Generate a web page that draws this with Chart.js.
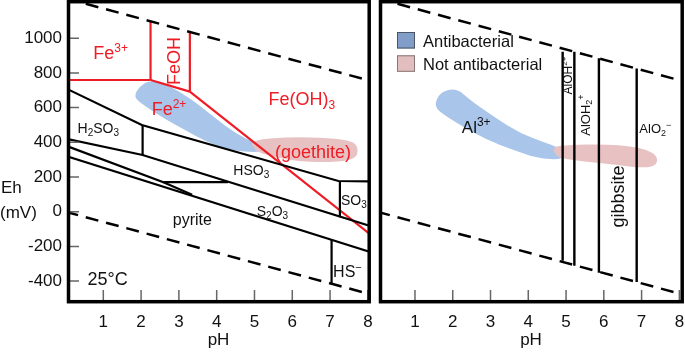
<!DOCTYPE html>
<html><head><meta charset="utf-8">
<script src="https://cdn.jsdelivr.net/npm/chart.js@4.4.1/dist/chart.umd.min.js"></script>
<style>
html,body{margin:0;padding:0;background:#fff;width:685px;height:353px;overflow:hidden;}
#c1{position:absolute;left:0;top:0;}
#c2{position:absolute;left:372px;top:0;}
</style></head><body>
<canvas id="c1" width="372" height="353"></canvas>
<canvas id="c2" width="313" height="353"></canvas>
<script>
const FONT = "'Liberation Sans', Arial, Helvetica, sans-serif";

// ---- axes ----
const PH_TICKS = [1, 2, 3, 4, 5, 6, 7, 8];
const EH_TICKS = [-400, -200, 0, 200, 400, 600, 800, 1000];
const PH_RANGE_LEFT = [0.066, 8.03];
const PH_RANGE_RIGHT = [0.074, 8.07];
const EH_RANGE = [-520.5, 1208.6];

// ---- water stability limits (dashed) [pH, Eh mV] ----
const WATER_O2 = [[0, 1230], [8.1, 752]];
const WATER_H2 = [[0, 0], [8.1, -478]];

// ---- Fe boundaries (red) ----
const FE3_FE2 = [[0.0, 759], [2.25, 759]];
const FE3_FEOH = [[2.25, 759], [2.25, 1097]];
const FEOH_FE2 = [[2.25, 759], [3.29, 692]];
const FEOH_FEOH3 = [[3.29, 692], [3.29, 1036]];
const FE2_FEOH3 = [[3.29, 692], [8.1, -137]];

// ---- S boundaries (black) ----
const S_UPPER = [[0.0, 712], [2.02, 500], [7.22, 177], [8.1, 174]];
const S_H2SO3_HSO3 = [[2.04, 500], [2.04, 327]];
const S_LINE_B = [[0.0, 421], [2.04, 327], [8.1, -85]];
const S_LINE_C = [[0.0, 381], [2.59, 170], [3.35, 97]];
const S_STEP = [[2.59, 170], [4.3, 170]];
const S_PYRITE_TOP = [[0.0, 322], [8.1, -235]];
const S_SO3_EDGE = [[7.26, 177], [7.26, -32]];
const S_HS_EDGE = [[7.04, -163], [7.04, -418]];

// ---- Al boundaries (right panel) ----
const AL_EDGE_PH = [4.91, 5.22, 5.87, 6.87];
const AL_EDGE_TOP = [922, 922, 884, 825];
const AL_EDGE_BOTTOM = [-283, -311, -352, -405];

// ---- observed regions ----
const FE_ANTIBACTERIAL = [[1.79,661],[1.97,724],[2.24,759],[2.63,736],[3.03,690],[3.43,632],[3.96,540],[4.48,454],[5.01,396],[5.33,367],[5.20,344],[4.75,344],[4.22,361],[3.69,408],[3.16,471],[2.63,534],[2.10,609]];
const FE_NOT_ANTIBACTERIAL = [[4.88,413],[5.94,431],[7.0,425],[7.58,407],[7.74,373],[7.71,310],[7.26,286],[6.2,286],[5.41,321],[5.01,350]];
const AL_ANTIBACTERIAL = [[1.49,605],[1.67,692],[2.11,711],[2.46,644],[3.08,548],[3.78,452],[4.49,394],[4.97,356],[4.93,298],[4.22,308],[3.61,356],[2.9,413],[2.28,490],[1.84,548]];
const AL_NOT_ANTIBACTERIAL = [[4.62,375],[5.1,384],[5.99,390],[6.78,375],[7.13,356],[7.4,327],[7.42,269],[7.04,250],[5.99,279],[5.1,298],[4.75,317]];

const LEGEND_NAMES = ['Antibacterial', 'Not antibacterial'];

// ---- labels (text, anchor pH, anchor Eh) ----
const LABELS_LEFT = [
  {t:'Fe^{3+}', ph:0.735, eh:878, s:18, c:'#ee1c24'},
  {t:'FeOH', ph:2.87, eh:869, s:18, c:'#ee1c24', rot:true},
  {t:'Fe^{2+}', ph:2.28, eh:557, s:18, c:'#ee1c24'},
  {t:'Fe(OH)_{3}', ph:5.37, eh:615, s:18, c:'#ee1c24'},
  {t:'(goethite)', ph:5.54, eh:308, s:18, c:'#ee1c24'},
  {t:'H_{2}SO_{3}', ph:0.32, eh:455, s:14, c:'#111'},
  {t:'HSO_{3}', ph:4.44, eh:211, s:14, c:'#111'},
  {t:'SO_{3}', ph:7.29, eh:39, s:14, c:'#111'},
  {t:'S_{2}O_{3}', ph:5.06, eh:-25, s:14, c:'#111'},
  {t:'pyrite', ph:2.84, eh:-77, s:16, c:'#111'},
  {t:'HS^{−}', ph:7.08, eh:-378, s:16, c:'#111'},
  {t:'25°C', ph:0.58, eh:-423, s:18, c:'#111'}
];
const LABELS_RIGHT = [
  {t:'Al^{3+}', ph:2.24, eh:452, s:17, c:'#111'},
  {t:'AlO_{2}^{−}', ph:6.94, eh:452, s:13, c:'#111'},
  {t:'AlOH^{2+}', ph:5.05, eh:785, s:12, c:'#111', rot:true},
  {t:'AlOH_{2}^{+}', ph:5.5, eh:557, s:13, c:'#111', rot:true},
  {t:'gibbsite', ph:6.35, eh:88, s:18, c:'#111', rot:true}
];

// ---------- helpers ----------
function toXY(pts) { return pts.map(p => ({x: p[0], y: p[1]})); }
function lineDS(pts, color, width, dash) {
  return {data: toXY(pts), showLine: true, borderColor: color, backgroundColor: color,
    borderWidth: width, borderDash: dash || [], pointRadius: 0, pointHoverRadius: 0,
    fill: false, tension: 0, borderCapStyle: 'butt', borderJoinStyle: 'miter'};
}
function parseRich(s) {
  const parts = []; const re = /([_^])\{([^}]*)\}|([^_^]+)/g; let m;
  while ((m = re.exec(s))) {
    if (m[3] !== undefined) parts.push({t: m[3], k: 0});
    else parts.push({t: m[2], k: m[1] === '^' ? 1 : -1});
  }
  return parts;
}
function drawRich(ctx, s, x, y, size, color, rot) {
  const parts = parseRich(s);
  const small = Math.round(size * 0.68);
  let w = 0;
  parts.forEach(p => { ctx.font = (p.k ? small : size) + 'px ' + FONT; p.w = ctx.measureText(p.t).width; w += p.w; });
  ctx.save();
  ctx.translate(x, y);
  let cx = 0, by = 0;
  if (rot) { ctx.rotate(-Math.PI / 2); cx = -w / 2; by = size * 0.36; }
  ctx.fillStyle = color; ctx.textBaseline = 'alphabetic'; ctx.textAlign = 'left';
  parts.forEach(p => {
    ctx.font = (p.k ? small : size) + 'px ' + FONT;
    const dy = p.k === 1 ? -size * 0.4 : (p.k === -1 ? size * 0.22 : 0);
    ctx.fillText(p.t, cx, by + dy);
    cx += p.w;
  });
  ctx.restore();
}
function smoothPath(ctx, pts) {
  const n = pts.length;
  const mid = (a, b) => [(a[0] + b[0]) / 2, (a[1] + b[1]) / 2];
  const m0 = mid(pts[n - 1], pts[0]);
  ctx.moveTo(m0[0], m0[1]);
  for (let i = 0; i < n; i++) {
    const p = pts[i], m = mid(p, pts[(i + 1) % n]);
    ctx.quadraticCurveTo(p[0], p[1], m[0], m[1]);
  }
  ctx.closePath();
}

function overlay(cfg) {
  return {
    id: 'overlay',
    beforeDatasetsDraw(chart) {
      const ctx = chart.ctx, xs = chart.scales.x, ys = chart.scales.y;
      ctx.save();
      ctx.filter = 'blur(0.5px)';
      cfg.blobs.forEach(b => {
        const pts = b.pts.map(p => [xs.getPixelForValue(p[0]), ys.getPixelForValue(p[1])]);
        ctx.beginPath(); smoothPath(ctx, pts);
        ctx.fillStyle = b.color; ctx.fill();
      });
      ctx.restore();
    },
    afterDatasetsDraw(chart) {
      const ctx = chart.ctx, xs = chart.scales.x, ys = chart.scales.y;
      const a = chart.chartArea;
      cfg.labels.forEach(l => drawRich(ctx, l.t, xs.getPixelForValue(l.ph), ys.getPixelForValue(l.eh), l.s, l.c, l.rot));
      ctx.save();
      ctx.strokeStyle = '#666'; ctx.lineWidth = 1.5;
      ctx.beginPath();
      PH_TICKS.forEach(v => { const x = xs.getPixelForValue(v); ctx.moveTo(x, a.bottom); ctx.lineTo(x, a.bottom - 12); });
      if (cfg.yTicks) EH_TICKS.forEach(v => { const y = ys.getPixelForValue(v); ctx.moveTo(a.left, y); ctx.lineTo(a.left + 11, y); });
      ctx.stroke();
      ctx.strokeStyle = '#000'; ctx.lineWidth = 3.5;
      ctx.strokeRect(a.left + 0.5, a.top - 0.3, a.right - a.left - 0.3, a.bottom - a.top);
      ctx.restore();
      if (cfg.extra) cfg.extra(chart);
    }
  };
}

function xScale(range) {
  return {type: 'linear', min: range[0], max: range[1],
    grid: {display: false, drawTicks: false}, border: {display: false},
    afterBuildTicks: s => { s.ticks = PH_TICKS.map(v => ({value: v})); },
    ticks: {padding: 10, font: {family: FONT, size: 17}, color: '#111', maxRotation: 0, autoSkip: false, callback: v => String(v)},
    title: {display: true, text: 'pH', font: {family: FONT, size: 17}, color: '#111', padding: {top: 0, bottom: 2}},
    afterFit: s => { s.height = 51; s.paddingLeft = 0; s.paddingRight = 0; }
  };
}

// ---------- left chart: Fe–S ----------
new Chart(document.getElementById('c1'), {
  type: 'scatter',
  data: {datasets: [
    lineDS(WATER_O2, '#000', 2.5, [13, 8]),
    lineDS(WATER_H2, '#000', 2.5, [13, 8]),
    lineDS(S_UPPER, '#000', 2.2),
    lineDS(S_H2SO3_HSO3, '#000', 2.2),
    lineDS(S_LINE_B, '#000', 2.2),
    lineDS(S_LINE_C, '#000', 2.2),
    lineDS(S_STEP, '#000', 2.2),
    lineDS(S_PYRITE_TOP, '#000', 2.2),
    lineDS(S_SO3_EDGE, '#000', 2.2),
    lineDS(S_HS_EDGE, '#000', 2.2),
    lineDS(FE3_FE2, '#ee1c24', 2.2),
    lineDS(FE3_FEOH, '#ee1c24', 2.2),
    lineDS(FEOH_FE2, '#ee1c24', 2.2),
    lineDS(FEOH_FEOH3, '#ee1c24', 2.2),
    lineDS(FE2_FEOH3, '#ee1c24', 2.2)
  ]},
  options: {
    responsive: false, animation: false, events: [],
    layout: {padding: {left: 0, right: 3, top: 2, bottom: 0}},
    plugins: {legend: {display: false}, tooltip: {enabled: false}},
    scales: {
      x: xScale(PH_RANGE_LEFT),
      y: {type: 'linear', min: EH_RANGE[0], max: EH_RANGE[1],
        grid: {display: false, drawTicks: false}, border: {display: false},
        afterBuildTicks: s => { s.ticks = EH_TICKS.map(v => ({value: v})); },
        ticks: {padding: 6, font: {family: FONT, size: 17}, color: '#111', autoSkip: false, callback: v => String(v)},
        afterFit: s => { s.width = 68; s.paddingTop = 0; s.paddingBottom = 0; }
      }
    }
  },
  plugins: [overlay({
    yTicks: true,
    blobs: [
      {pts: FE_ANTIBACTERIAL, color: 'rgb(170,197,234)'},
      {pts: FE_NOT_ANTIBACTERIAL, color: 'rgb(232,194,194)'}
    ],
    labels: LABELS_LEFT,
    extra(chart) {
      const ctx = chart.ctx;
      ctx.save();
      ctx.fillStyle = '#111'; ctx.font = '17px ' + FONT; ctx.textAlign = 'left'; ctx.textBaseline = 'alphabetic';
      ctx.fillText('Eh', 1, 193);
      ctx.fillText('(mV)', 0, 218);
      ctx.restore();
    }
  })]
});

// ---------- right chart: Al ----------
const alDatasets = [
  lineDS(WATER_O2, '#000', 2.5, [13, 8]),
  lineDS(WATER_H2, '#000', 2.5, [13, 8])
];
AL_EDGE_PH.forEach((ph, i) => alDatasets.push(lineDS([[ph, AL_EDGE_TOP[i]], [ph, AL_EDGE_BOTTOM[i]]], '#000', 2.4)));

new Chart(document.getElementById('c2'), {
  type: 'scatter',
  data: {datasets: alDatasets},
  options: {
    responsive: false, animation: false, events: [],
    layout: {padding: {left: 8, right: 3, top: 2, bottom: 0}},
    plugins: {legend: {display: false}, tooltip: {enabled: false}},
    scales: {
      x: xScale(PH_RANGE_RIGHT),
      y: {type: 'linear', display: false, min: EH_RANGE[0], max: EH_RANGE[1]}
    }
  },
  plugins: [overlay({
    yTicks: false,
    blobs: [
      {pts: AL_ANTIBACTERIAL, color: 'rgb(170,197,234)'},
      {pts: AL_NOT_ANTIBACTERIAL, color: 'rgb(232,194,194)'}
    ],
    labels: LABELS_RIGHT,
    extra(chart) {
      const ctx = chart.ctx, a = chart.chartArea;
      const fills = ['rgb(128,158,200)', 'rgb(226,190,190)'];
      const strokes = ['#4b5563', '#8a7676'];
      ctx.save();
      LEGEND_NAMES.forEach((name, i) => {
        const top = a.top + 30 + i * 23.3;
        ctx.fillStyle = fills[i]; ctx.fillRect(a.left + 17, top, 18, 16.5);
        ctx.strokeStyle = strokes[i]; ctx.lineWidth = 1; ctx.strokeRect(a.left + 17.5, top + 0.5, 17, 15.5);
        ctx.fillStyle = '#111'; ctx.font = '16.5px ' + FONT; ctx.textAlign = 'left'; ctx.textBaseline = 'alphabetic';
        ctx.fillText(name, a.left + 43, top + 15);
      });
      ctx.restore();
    }
  })]
});
</script>
</body></html>
